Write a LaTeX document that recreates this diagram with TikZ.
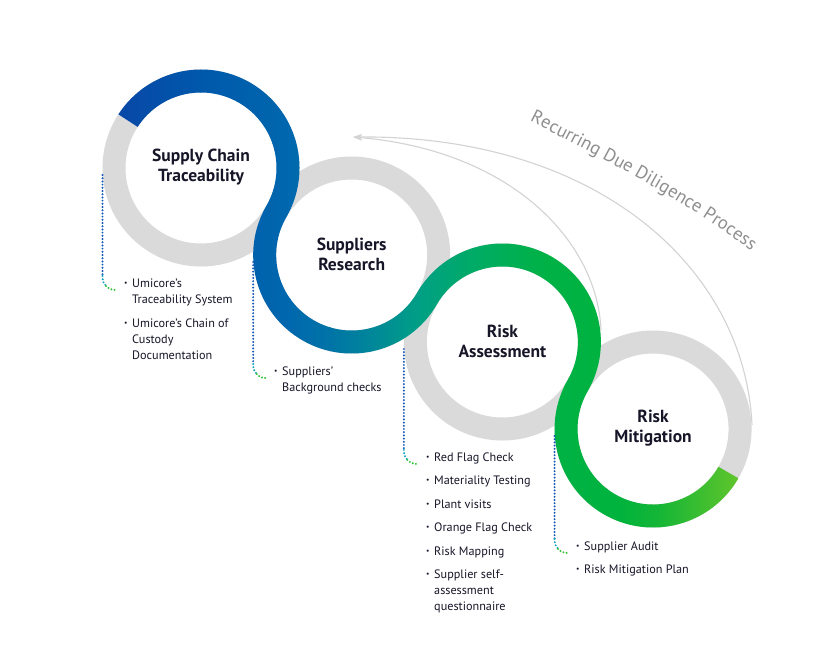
\documentclass[tikz,border=0pt]{standalone}
\usepackage{fontspec}
\setmainfont{PT Sans}
\usetikzlibrary{calc,arrows.meta,decorations.text}
\definecolor{ringgray}{HTML}{DADADA}
\definecolor{txt}{HTML}{161628}
\definecolor{recgray}{HTML}{8F8F8F}
\definecolor{arrgray}{HTML}{D3D3D3}
\definecolor{dotblue}{HTML}{1558BA}
\definecolor{dotteal}{HTML}{10A2BC}
\definecolor{dotgreen}{HTML}{35C23A}
\definecolor{g0}{HTML}{0A44A6}
\definecolor{g1}{HTML}{0058AB}
\definecolor{g2}{HTML}{0068AE}
\definecolor{g3}{HTML}{0074A6}
\definecolor{g4}{HTML}{00869A}
\definecolor{g5}{HTML}{00A084}
\definecolor{g6}{HTML}{00AC62}
\definecolor{g7}{HTML}{00B147}
\definecolor{g8}{HTML}{00B33C}
\definecolor{g9}{HTML}{16B636}
\definecolor{g10}{HTML}{74C929}
\newcommand\bul{\makebox[8pt][l]{\raisebox{1.7pt}{\fontsize{7.5}{7.5}\selectfont\textbullet}}}
\newcommand\ind{\hspace*{8pt}}
\begin{document}
\begin{tikzpicture}[x=1pt,y=-1pt,
  ring/.style={line width=23pt, draw=ringgray},
  titlenode/.style={align=center, font=\bfseries\fontsize{17.5}{20}\selectfont, text=txt, inner sep=0pt},
  listnode/.style={anchor=base west, inner sep=0pt, font=\fontsize{12.2}{16}\selectfont, text=txt},
  dotline/.style={line width=2.2pt, line cap=round, dash pattern=on 0pt off 3.2pt},
  recarrow/.style={draw=arrgray, line width=1.1pt, -{Stealth[length=9pt,width=6pt]}}
]
\fill[white] (0,0) rectangle (840,664);
\useasboundingbox (0,0) rectangle (840,664);

\coordinate (c1) at (201,168);
\coordinate (c2) at ($(c1)+(30:174)$);
\coordinate (c3) at ($(c2)+(30:174)$);
\coordinate (c4) at ($(c3)+(30:174)$);

% recurring arrows
\coordinate (tip) at (353,137);
\coordinate (ia) at (601,330);
\coordinate (oa) at (752,425);
\draw[recarrow] (ia) .. controls (597,240) and (510,150) .. (tip);
\draw[recarrow] (oa) .. controls (745,270) and (600,135) .. (tip);
\path[decorate, decoration={text along path, text align=center,
  text={|\fontsize{18.5}{18.5}\selectfont\color{recgray}|Recurring Due Diligence Process}}]
  (522,117) .. controls (602,158) and (686,200) .. (758,256);

% gray rings
\foreach \c in {c1,c2,c3,c4} \draw[ring] (\c) circle[radius=87];

% coloured ribbon
\begin{scope}
\path[clip] ($(c1)+(213:98.5)$)
  arc[start angle=213,end angle=390,radius=98.5]
  arc[start angle=210,end angle=30,radius=75.5]
  arc[start angle=210,end angle=390,radius=98.5]
  arc[start angle=210,end angle=30,radius=75.5]
  -- ($(c4)+(30:98.5)$)
  arc[start angle=30,end angle=210,radius=98.5]
  arc[start angle=390,end angle=210,radius=75.5]
  arc[start angle=30,end angle=210,radius=98.5]
  arc[start angle=390,end angle=213,radius=75.5]
  -- cycle;
\shade[left color=g0,right color=g1] (100,50) rectangle (200.5,560);
\shade[left color=g1,right color=g2] (200,50) rectangle (290.5,560);
\shade[left color=g2,right color=g3] (290,50) rectangle (330.5,560);
\shade[left color=g3,right color=g4] (330,50) rectangle (370.5,560);
\shade[left color=g4,right color=g5] (370,50) rectangle (420.5,560);
\shade[left color=g5,right color=g6] (420,50) rectangle (480.5,560);
\shade[left color=g6,right color=g7] (480,50) rectangle (540.5,560);
\shade[left color=g7,right color=g8] (540,50) rectangle (620.5,560);
\shade[left color=g8,right color=g9] (620,50) rectangle (660.5,560);
\shade[left color=g9,right color=g10] (660,50) rectangle (760,560);
\end{scope}

% titles
\node[titlenode] (t1) at ($(c1)+(0,-1)$) {Supply Chain\\Traceability};
\node[titlenode] (t2) at ($(c2)+(0,-1)$) {Suppliers\\Research};
\node[titlenode] (t3) at ($(c3)+(0,-1)$) {Risk\\Assessment};
\node[titlenode] (t4) at ($(c4)+(0,-1)$) {Risk\\Mitigation};

% lists
\node[listnode] (l1) at (124,287) {\begin{tabular}[t]{@{}l@{}}
\bul Umicore’s\\ \ind Traceability System\\[8pt]
\bul Umicore’s Chain of\\ \ind Custody\\ \ind Documentation\end{tabular}};
\node[listnode] (l2) at (274,375) {\begin{tabular}[t]{@{}l@{}}
\bul Suppliers’\\ \ind Background checks\end{tabular}};
\node[listnode] (l3) at (426,461) {\begin{tabular}[t]{@{}l@{}}
\bul Red Flag Check\\[7.5pt]
\bul Materiality Testing\\[7.5pt]
\bul Plant visits\\[7.5pt]
\bul Orange Flag Check\\[7.5pt]
\bul Risk Mapping\\[7.5pt]
\bul Supplier self-\\ \ind assessment\\ \ind questionnaire\end{tabular}};
\node[listnode] (l4) at (576,550) {\begin{tabular}[t]{@{}l@{}}
\bul Supplier Audit\\[7pt]
\bul Risk Mitigation Plan\end{tabular}};

% dotted connectors
\foreach \c/\l/\i in {c1/l1/1,c2/l2/2,c3/l3/3,c4/l4/4}{
  \coordinate (s\i) at ($(\c)+(-98.5,7)$);
  \coordinate (e\i) at ($(\l.base west)+(-8,3)$);
  \coordinate (k\i) at ($(s\i |- e\i)+(0,-14)$);
  \coordinate (m\i) at ($(s\i |- e\i)+(3.5,-4)$);
  \draw[dotline, dotblue] (s\i) -- (k\i);
  \draw[dotline, dotteal] (k\i) .. controls ($(k\i)+(0,5)$) and ($(m\i)+(-2,-2)$) .. (m\i);
  \draw[dotline, dotgreen] (m\i) .. controls ($(m\i)+(3,3)$) and ($(e\i)+(-4,0)$) .. (e\i);
}
\end{tikzpicture}
\end{document}
